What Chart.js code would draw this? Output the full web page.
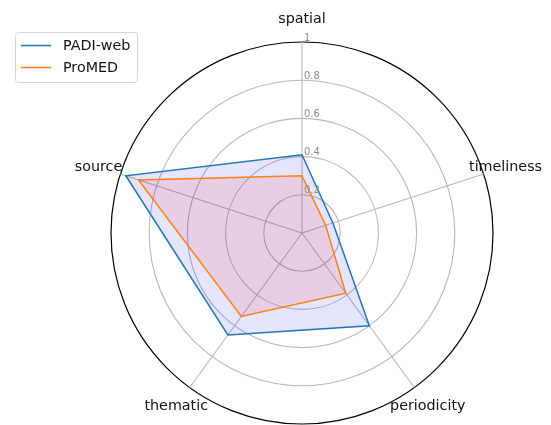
<!DOCTYPE html>
<html>
<head>
<meta charset="utf-8">
<script src="https://cdn.jsdelivr.net/npm/chart.js@4/dist/chart.umd.min.js"></script>
<style>
  html, body { margin: 0; padding: 0; background: #fff; }
  #wrap { width: 551px; height: 425px; }
</style>
</head>
<body>
<div id="wrap"><canvas id="radar"></canvas></div>
<script>
// data
const categories = ['spatial', 'timeliness', 'periodicity', 'thematic', 'source'];
const padiWeb = [0.41, 0.17, 0.60, 0.66, 0.97];
const proMed = [0.30, 0.13, 0.39, 0.54, 0.90];
const tickValues = [0.2, 0.4, 0.6, 0.8, 1];

const font = "'DejaVu Sans', sans-serif";

// category labels centred a bit outside the outer circle, like matplotlib
const axisLabels = {
    id: 'axisLabels',
    afterDraw(chart) {
        const s = chart.scales.r;
        const ctx = chart.ctx;
        ctx.save();
        ctx.font = '14.3px ' + font;
        ctx.fillStyle = '#111';
        ctx.textAlign = 'center';
        ctx.textBaseline = 'middle';
        categories.forEach((c, i) => {
            const p = s.getPointPosition(i, s.drawingArea + 23);
            ctx.fillText(c, p.x, p.y);
        });
        ctx.restore();
    }
};

// radial tick labels sit just right of the top spoke
const tickLabels = {
    id: 'tickLabels',
    afterDatasetsDraw(chart) {
        const s = chart.scales.r;
        const ctx = chart.ctx;
        ctx.save();
        ctx.font = '10px ' + font;
        ctx.fillStyle = '#8c8c8c';
        ctx.textAlign = 'left';
        ctx.textBaseline = 'bottom';
        tickValues.forEach(v => {
            const d = s.getDistanceFromCenterForValue(v);
            ctx.fillText(String(v), s.xCenter + 2, s.yCenter - d + 1);
        });
        ctx.restore();
    }
};

// legend box in the upper left corner
const boxLegend = {
    id: 'boxLegend',
    afterDraw(chart) {
        const ctx = chart.ctx;
        const x = 15, y = 32, w = 122, h = 50;
        ctx.save();
        ctx.fillStyle = 'rgba(255,255,255,0.8)';
        ctx.strokeStyle = '#d6d6d6';
        ctx.lineWidth = 1;
        ctx.beginPath();
        ctx.roundRect(x + 0.5, y + 0.5, w, h, 3);
        ctx.fill();
        ctx.stroke();
        ctx.font = '14.3px ' + font;
        ctx.textBaseline = 'middle';
        chart.data.datasets.forEach((ds, i) => {
            const ly = y + 13.5 + i * 22;
            ctx.strokeStyle = ds.borderColor;
            ctx.lineWidth = 1.5;
            ctx.beginPath();
            ctx.moveTo(x + 6, ly);
            ctx.lineTo(x + 36, ly);
            ctx.stroke();
            ctx.fillStyle = '#111';
            ctx.fillText(ds.label, x + 48, ly + 0.5);
        });
        ctx.restore();
    }
};

new Chart(document.getElementById('radar'), {
    type: 'radar',
    data: {
        labels: categories,
        datasets: [{
            label: 'PADI-web',
            data: padiWeb,
            borderColor: '#1f77b4',
            backgroundColor: 'rgba(0, 0, 255, 0.1)',
            borderWidth: 1.5,
            fill: true,
            pointRadius: 0,
            order: 1
        }, {
            label: 'ProMED',
            data: proMed,
            borderColor: '#ff7f0e',
            backgroundColor: 'rgba(255, 0, 0, 0.1)',
            borderWidth: 1.5,
            fill: true,
            pointRadius: 0,
            order: 0
        }]
    },
    options: {
        responsive: true,
        maintainAspectRatio: false,
        animation: false,
        layout: { padding: { top: 42, bottom: -1, left: 110, right: 57 } },
        plugins: {
            legend: { display: false },
            tooltip: { enabled: false }
        },
        scales: {
            r: {
                min: 0,
                max: 1,
                ticks: { display: false, stepSize: 0.2 },
                grid: {
                    circular: true,
                    color: ctx => ctx.tick.value === 1 ? '#000000' : '#b8b8b8',
                    lineWidth: ctx => ctx.tick.value === 1 ? 1.2 : 1.1
                },
                angleLines: { color: '#b8b8b8', lineWidth: 1.1 },
                pointLabels: { display: false }
            }
        }
    },
    plugins: [tickLabels, axisLabels, boxLegend]
});
</script>
</body>
</html>
